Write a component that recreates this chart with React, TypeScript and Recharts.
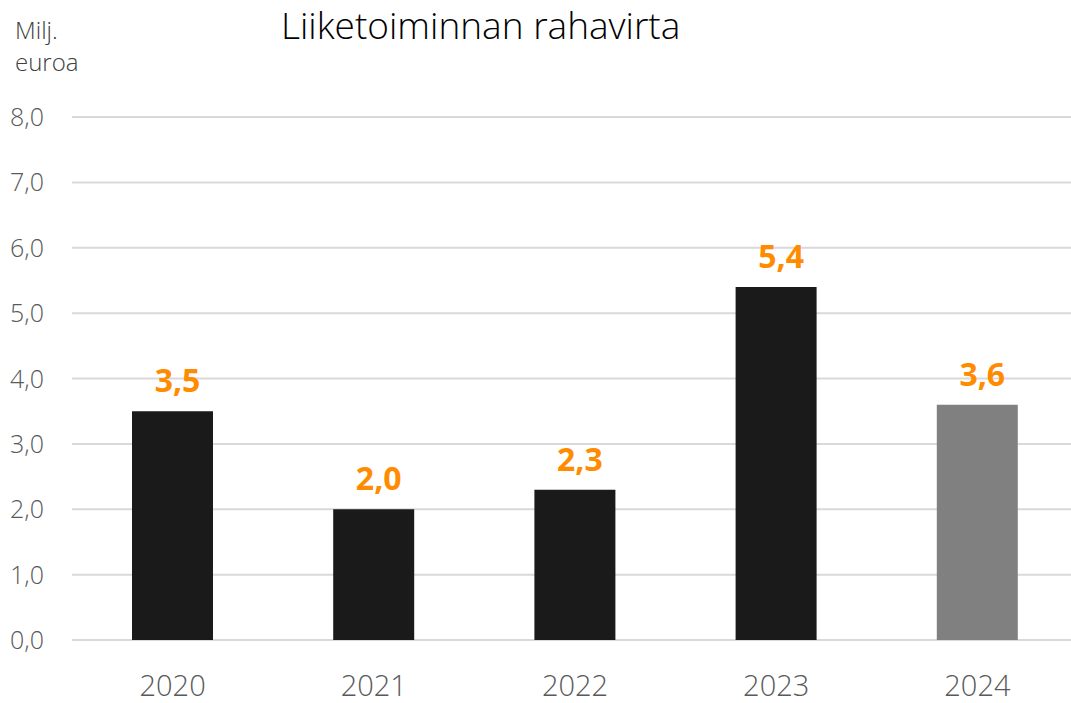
import React from 'react';
import { BarChart, Bar, XAxis, YAxis, CartesianGrid, Cell, LabelList } from 'recharts';

const years = ['2020', '2021', '2022', '2023', '2024'];
const values = [3.5, 2.0, 2.3, 5.4, 3.6];
const barColors = ['#1a1a1a', '#1a1a1a', '#1a1a1a', '#1a1a1a', '#808080'];
const yTicks = [0, 1, 2, 3, 4, 5, 6, 7, 8];

const data = years.map((y, i) => ({ year: y, value: values[i], color: barColors[i] }));

const fmt = (v: number) => v.toFixed(1).replace('.', ',');
const FONT = '"Open Sans", "Noto Sans", sans-serif';

const YTick = (props: any) => {
  const { y, payload } = props;
  return (
    <text x={44} y={y} dy={9} textAnchor="end" fontFamily={FONT} fontSize={25} fontWeight={300} fill="#595959">
      {fmt(payload.value)}
    </text>
  );
};

const XTick = (props: any) => {
  const { x, payload } = props;
  return (
    <text x={x} y={686} dy={10} textAnchor="middle" fontFamily={FONT} fontSize={29} fontWeight={300} fill="#595959">
      {payload.value}
    </text>
  );
};

const ValueLabel = (props: any) => {
  const { x, y, width, value } = props;
  return (
    <text x={Number(x) + Number(width) / 2 + 5} y={Number(y) - 19} textAnchor="middle" fontFamily={FONT} fontSize={32} fontWeight={700} fill="#ff8c00">
      {fmt(Number(value))}
    </text>
  );
};

export default function App() {
  return (
    <div style={{ position: 'absolute', left: 0, top: 0, width: 1071, height: 703, overflow: 'hidden', background: '#fff' }}>
      <div style={{ position: 'absolute', left: 0, top: 0, width: 1080 }}>
        <BarChart width={1080} height={703} data={data} margin={{ top: 117, right: 2, bottom: 0, left: 0 }}>
          <CartesianGrid vertical={false} stroke="#d9d9d9" strokeWidth={2} />
          <XAxis dataKey="year" axisLine={false} tickLine={false} tick={<XTick />} interval={0} height={63} />
          <YAxis domain={[0, 8]} ticks={yTicks} axisLine={false} tickLine={false} tick={<YTick />} width={72} interval={0} />
          <Bar dataKey="value" barSize={81} isAnimationActive={false}>
            {data.map((d, i) => (
              <Cell key={i} fill={d.color} />
            ))}
            <LabelList dataKey="value" content={<ValueLabel />} />
          </Bar>
        </BarChart>
      </div>
      <div style={{ position: 'absolute', left: 281, top: 3, fontFamily: FONT, fontWeight: 300, fontSize: 37, color: '#000', whiteSpace: 'nowrap', lineHeight: '44px' }}>
        Liiketoiminnan rahavirta
      </div>
      <div style={{ position: 'absolute', left: 15, top: 14, fontFamily: FONT, fontWeight: 300, fontSize: 24, color: '#404040', lineHeight: '32px' }}>
        Milj.<br />euroa
      </div>
    </div>
  );
}
